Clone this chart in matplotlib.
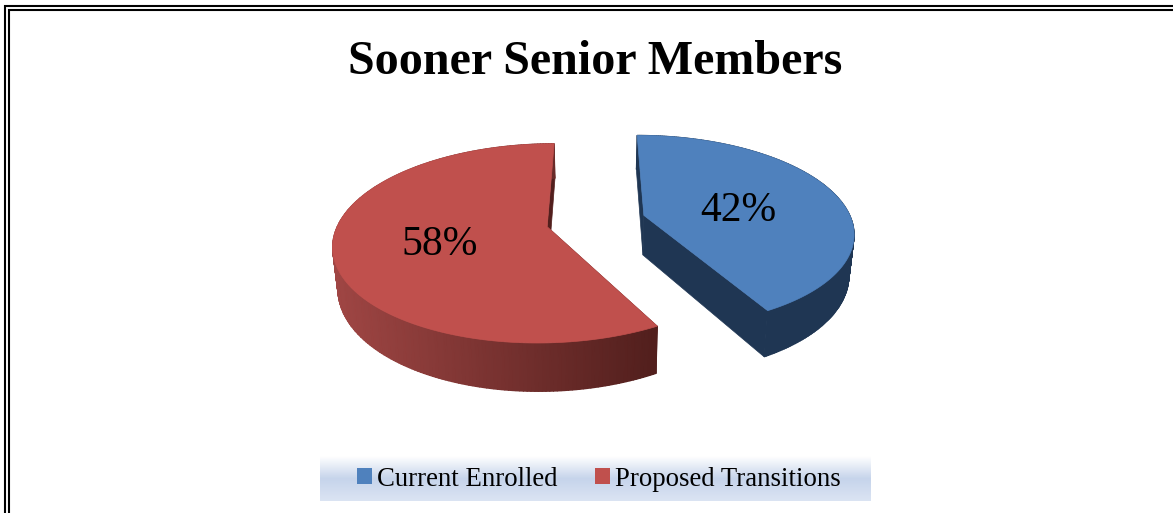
import numpy as np
import matplotlib
matplotlib.use("Agg")
import matplotlib.pyplot as plt
from matplotlib.colors import LinearSegmentedColormap
from matplotlib.patches import Patch, Polygon

plt.rcParams["font.family"] = ["Liberation Serif", "DejaVu Serif"]

# dados do grafico
title = "Sooner Senior Members"
categories = ["Current Enrolled", "Proposed Transitions"]
values = [42, 58]

top_colors = ["#4f81bd", "#c0504d"]
wall_left = ["#1f3653", "#a04644"]
wall_right = ["#1f3653", "#521f1d"]

# projecao em perspectiva da pizza (coordenadas em pixels)
X0, Y0 = 596, 221
F, G, H = 208, 95, 40
K = 0.165
EXPLODE = 0.24
SHRINK = 0.02


def project(x, y, z=0.0):
    w = 1 + K * y
    sx = X0 + F * x / w * (1 - SHRINK * z)
    sy = Y0 - G * y / w + H * z / w
    return sx, sy


def draw_slice(ax, start, end, top, left, right):
    mid = np.radians((start + end) / 2)
    cx, cy = EXPLODE * np.sin(mid), EXPLODE * np.cos(mid)
    ang = np.radians(np.linspace(start, end, 240))
    rx, ry = cx + np.sin(ang), cy + np.cos(ang)
    tx, ty = project(rx, ry, 0)
    bx, by = project(rx, ry, 1)
    ax0, ay0 = project(cx, cy, 0)
    ax1, ay1 = project(cx, cy, 1)

    # faces do corte
    for i in (0, -1):
        face = [(ax0, ay0), (tx[i], ty[i]), (bx[i], by[i]), (ax1, ay1)]
        ax.add_patch(Polygon(face, closed=True, fc=right, ec=right, lw=0.5, zorder=2))

    # parede externa com degrade da esquerda para a direita
    cmap = LinearSegmentedColormap.from_list("wall", [left, right])
    shade = np.clip((tx - 331) / (655 - 331), 0, 1)
    ax.pcolormesh(np.vstack([tx, bx]), np.vstack([ty, by]), np.vstack([shade, shade]),
                  cmap=cmap, vmin=0, vmax=1, shading="gouraud", zorder=3)

    # tampa
    pts = [(ax0, ay0)] + list(zip(tx, ty))
    ax.add_patch(Polygon(pts, closed=True, fc=top, ec=top, lw=0.5, zorder=4))


fig = plt.figure(figsize=(11.73, 5.13), dpi=100)
ax = fig.add_axes([0, 0, 1, 1])
ax.axis("off")

# moldura dupla
for off, top_y in ((5, 5.5), (9, 10)):
    ax.plot([off, off, 1173], [513, top_y, top_y], color="black", lw=1.5,
            solid_joinstyle="miter", zorder=1)

ax.text(595, 62, title, ha="center", va="center", fontsize=34.6, fontweight="bold")

# fatias comecando no topo, sentido horario
angles = np.cumsum([0] + values) / sum(values) * 360
label_pos = [(738, 211), (440, 245)]
for i, v in enumerate(values):
    draw_slice(ax, angles[i], angles[i + 1], top_colors[i], wall_left[i], wall_right[i])
    ax.text(label_pos[i][0], label_pos[i][1], f"{v}%", ha="center", va="center",
            fontsize=30, zorder=5)

# faixa da legenda
band = LinearSegmentedColormap.from_list("band", ["#ffffff", "#c6d4eb", "#dbe4f3"])
ax.imshow(np.linspace(0, 1, 64).reshape(-1, 1), cmap=band, extent=(320, 871, 501, 456),
          aspect="auto", zorder=1)
ax.set_xlim(0, 1173)
ax.set_ylim(513, 0)

handles = [Patch(fc=top_colors[i], ec="none", label=categories[i]) for i in range(len(categories))]
ax.legend(handles=handles, loc="center", bbox_to_anchor=(599 / 1173, 1 - 479 / 513), ncol=2,
          frameon=False, fontsize=19.3, handlelength=0.56, handleheight=0.56,
          handletextpad=0.2, columnspacing=1.38)

fig.savefig("out.png", dpi=100)
